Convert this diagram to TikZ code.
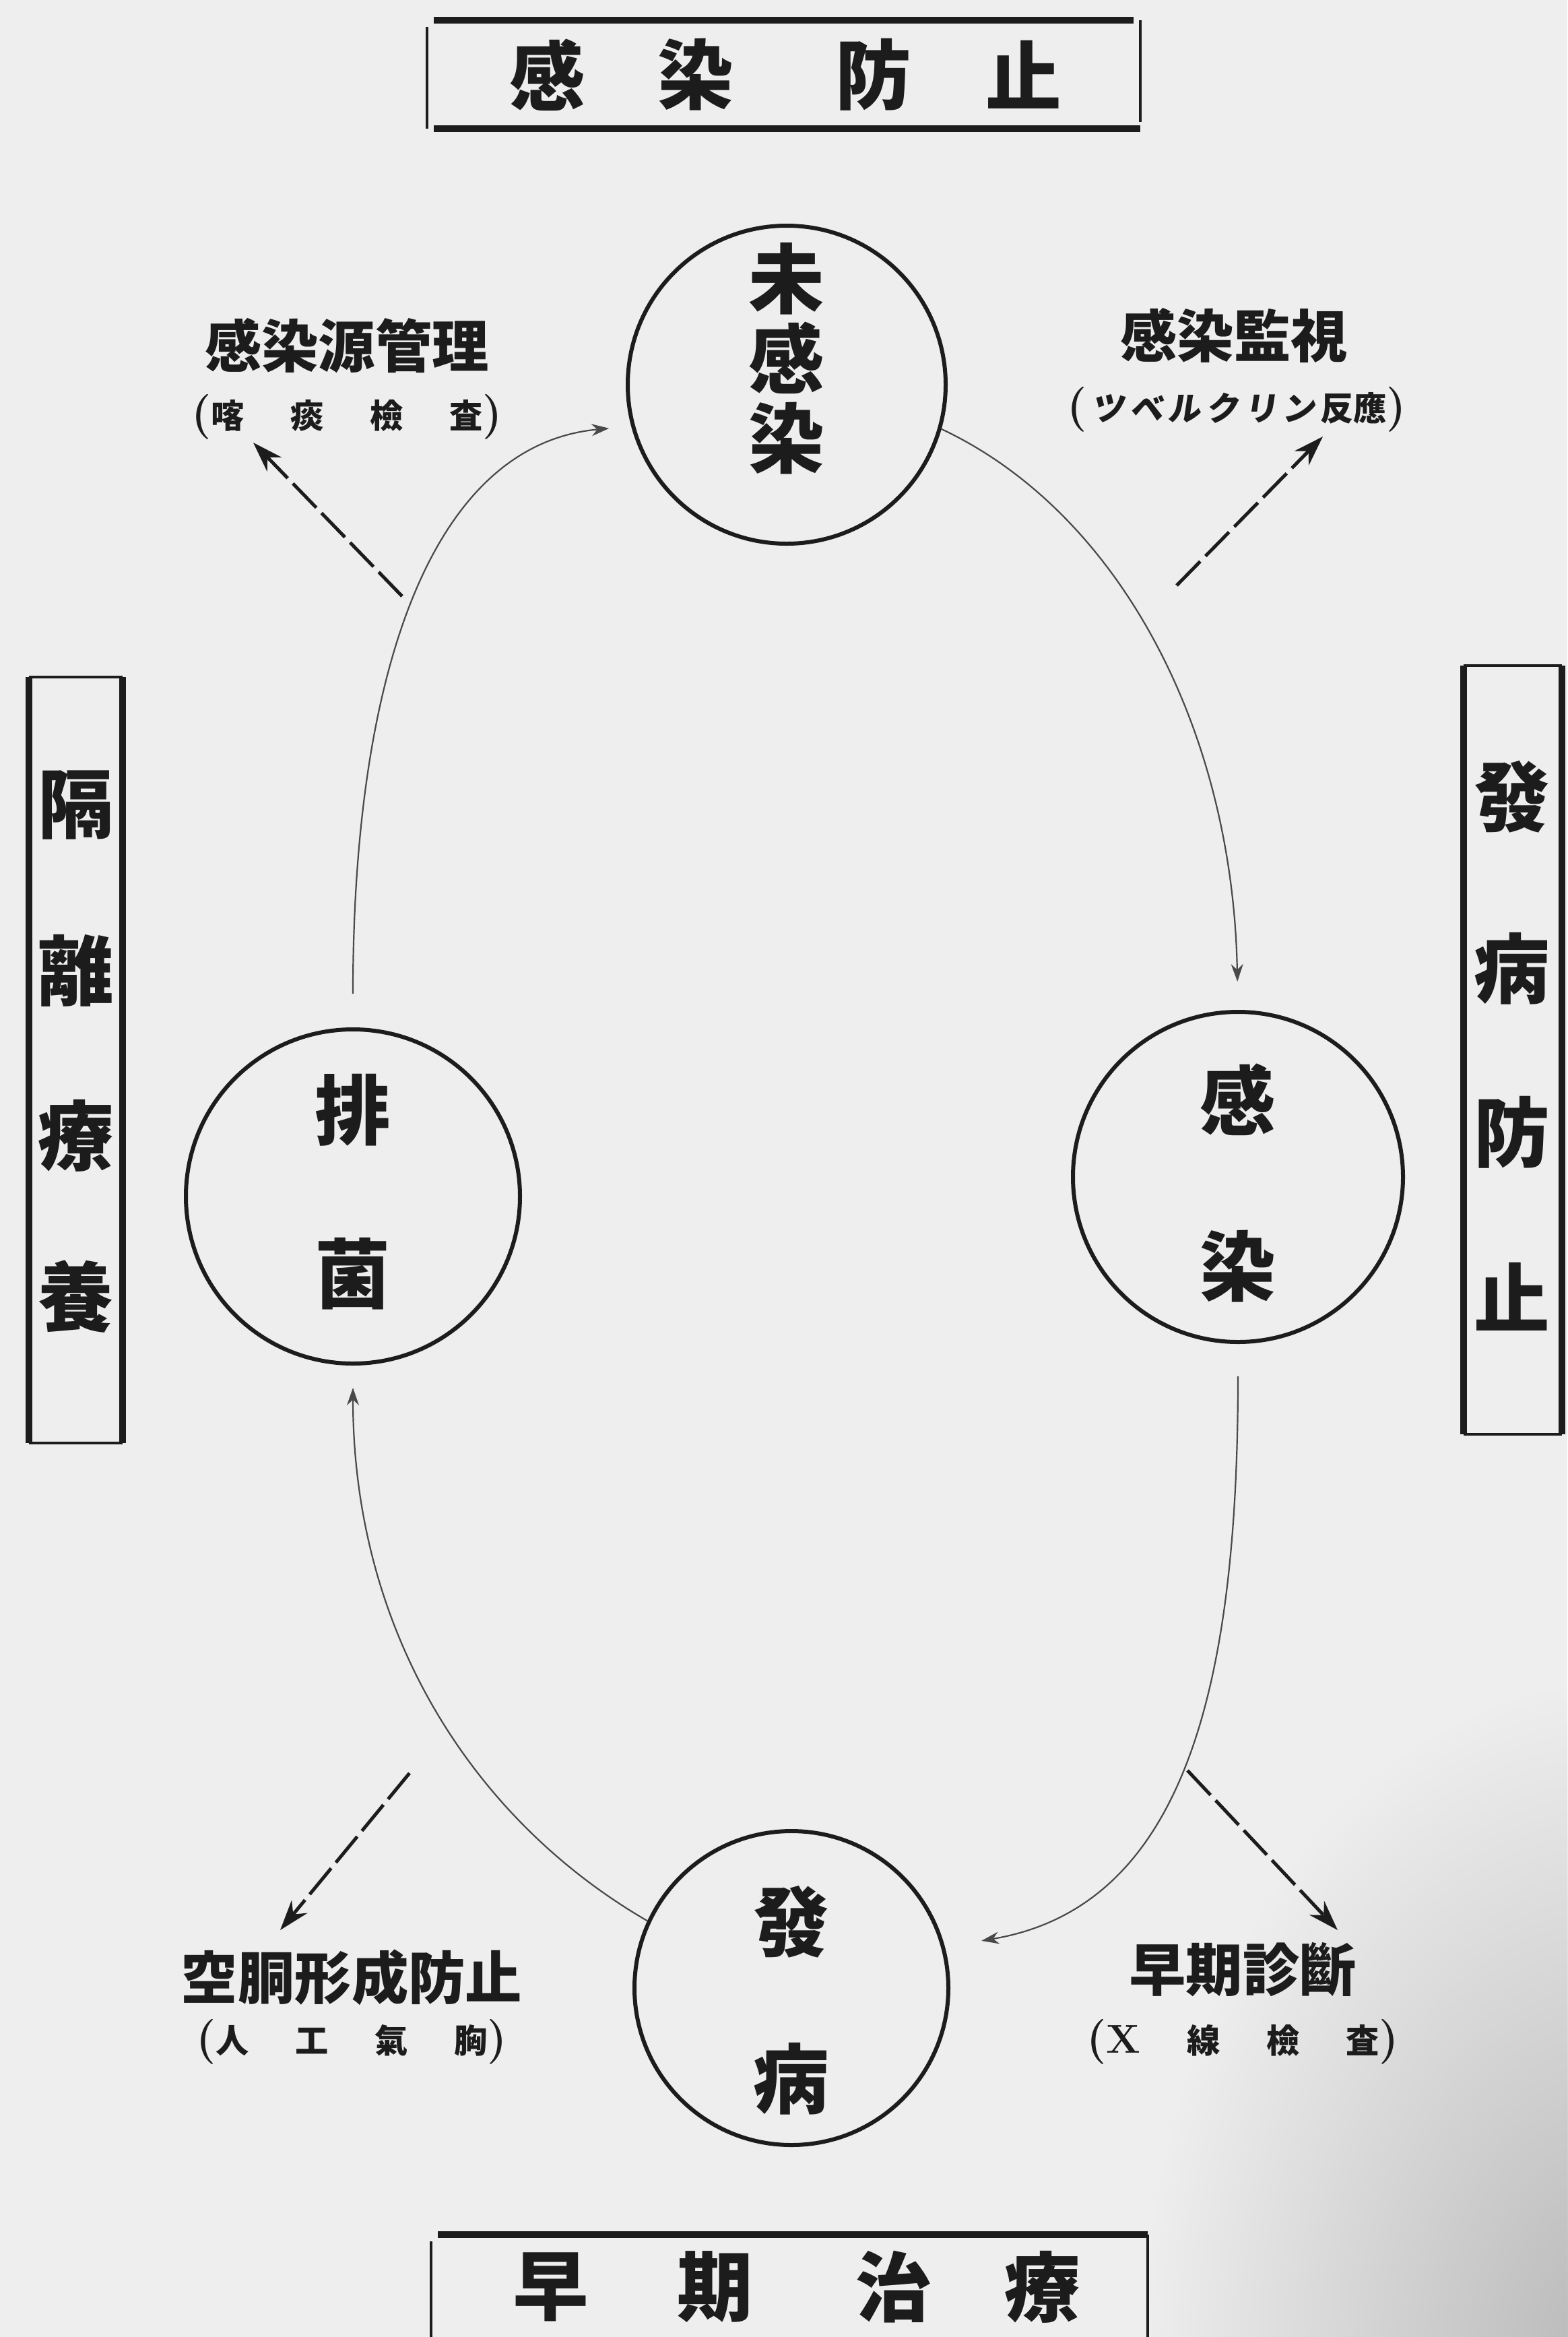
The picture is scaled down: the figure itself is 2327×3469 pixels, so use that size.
\documentclass[tikz,border=0pt]{standalone}
\usepackage{fontspec}
\newfontfamily\cjk{Noto Sans CJK JP}
\newfontfamily\cjkslant{Noto Sans CJK JP}[FakeSlant=0.15]
\usetikzlibrary{arrows.meta,fadings}
\tikzfading[name=softfade, inner color=transparent!0, outer color=transparent!100]
\definecolor{paper}{RGB}{238,238,238}
\definecolor{ink}{RGB}{28,28,28}
\begin{document}
\begin{tikzpicture}[x=0.1mm,y=-0.1mm,
  circ/.style={circle, draw=ink, line width=0.6mm, inner sep=0pt},
  big/.style={font=\cjk\bfseries\fontsize{32}{36}\selectfont, text=ink, inner sep=0pt},
  lbl/.style={font=\cjk\bfseries\fontsize{24}{28}\selectfont, text=ink, inner sep=0pt},
  sublbl/.style={font=\cjk\bfseries\fontsize{14}{16}\selectfont, text=ink, inner sep=0pt},
  flow/.style={draw=ink!80, line width=0.22mm, -{Stealth[length=2.6mm,width=1.8mm]}},
  dasharrow/.style={draw=ink, line width=0.5mm, dash pattern=on 5mm off 1.1mm, -{Stealth[length=4.5mm,width=3mm]}},
  hthick/.style={draw=ink, line width=1mm},
  hthin/.style={draw=ink, line width=0.4mm},
  boxframe/.style={inner sep=0pt, draw=none}
]
\newcommand\lpar{{\rmfamily\bfseries\fontsize{19}{19}\selectfont (}}
\newcommand\rpar{{\rmfamily\bfseries\fontsize{19}{19}\selectfont )}}
\newcommand\kg{\hspace{0.15em}}
\useasboundingbox (0,0) rectangle (2327,3469);
\fill[paper] (0,0) rectangle (2327,3469);
% paper shadow, bottom right
\fill[black!28, path fading=softfade] (2400,3500) ellipse [x radius=700, y radius=1000];

% ---------- top box ----------
\node[boxframe, minimum width=105.7mm, minimum height=15.9mm] (T) at (1163.5,110.5) {};
\draw[hthick] ([xshift=1mm]T.north west) -- ([xshift=-1mm]T.north east);
\draw[hthick] ([xshift=1mm]T.south west) -- (T.south east);
\draw[hthin] ([yshift=-1mm]T.north west) -- (T.south west);
\draw[hthin] (T.north east) -- ([yshift=1mm]T.south east);
\node[big] (T1) at (813,111) {感};
\node[big] (T2) at (1033,111) {染};
\node[big] (T3) at (1297,111) {防};
\node[big] (T4) at (1520,111) {止};

% ---------- bottom box ----------
\node[boxframe, minimum width=106.2mm, minimum height=20mm] (Bx) at (1172,3418) {};
\draw[hthick] ([xshift=1mm]Bx.north west) -- (Bx.north east);
\draw[hthin] ([yshift=-1mm]Bx.north west) -- (Bx.south west);
\draw[hthin] (Bx.north east) -- (Bx.south east);
\node[big] (B1) at (818,3395) {早};
\node[big] (B2) at (1062,3395) {期};
\node[big] (B3) at (1327,3395) {治};
\node[big] (B4) at (1548,3395) {療};

% ---------- left box ----------
\node[boxframe, minimum width=13.7mm, minimum height=113.5mm] (L) at (112.5,1573.5) {};
\draw[hthick] (L.north west) -- (L.south west);
\draw[hthick] (L.north east) -- (L.south east);
\draw[hthin] (L.north west) -- (L.north east);
\draw[hthin] (L.south west) -- (L.south east);
\node[big] (L1) at (113,1195) {隔};
\node[big] (L2) at (113,1441) {離};
\node[big] (L3) at (113,1686) {療};
\node[big] (L4) at (113,1925) {養};

% ---------- right box ----------
\node[boxframe, minimum width=14.4mm, minimum height=113.9mm] (R) at (2246,1558.5) {};
\draw[hthick] (R.north west) -- (R.south west);
\draw[hthick] (R.north east) -- (R.south east);
\draw[hthin] (R.north west) -- (R.north east);
\draw[hthin] (R.south west) -- (R.south east);
\node[big] (R1) at (2245,1183) {發};
\node[big] (R2) at (2245,1438) {病};
\node[big] (R3) at (2245,1681) {防};
\node[big] (R4) at (2245,1925) {止};

% ---------- circles ----------
\node[circ, minimum size=47.2mm] (A) at (1168,571) {};
\node[big] (A1) at (1168,414) {未};
\node[big] (A2) at (1168,531) {感};
\node[big] (A3) at (1168,651) {染};

\node[circ, minimum size=49mm] (B) at (1838,1747) {};
\node[big] (Bt1) at (1838,1632) {感};
\node[big] (Bt2) at (1838,1880) {染};

\node[circ, minimum size=46.6mm] (C) at (1175,2951) {};
\node[big] (Ct1) at (1175,2853) {發};
\node[big] (Ct2) at (1175,3086) {病};

\node[circ, minimum size=49.6mm] (D) at (524,1776) {};
\node[big] (Dt1) at (524,1648) {排};
\node[big] (Dt2) at (524,1891) {菌};

% ---------- labels ----------
\node[lbl] (La) at (515,513) {感染源管理};
\node[sublbl] (Las) at (515,619) {\lpar 喀\hspace{1.4em}痰\hspace{1.4em}檢\hspace{1.4em}査\rpar};
\node[lbl] (Lb) at (1832,498) {感染監視};
\node[sublbl] (Lbs) at (1836,608) {\lpar\kg{\cjkslant\bfseries ツ\kg ベ\kg ル\kg ク\kg リ\kg ン}\kg 反應\rpar};
\node[lbl] (Lc) at (522,2935) {空胴形成防止};
\node[sublbl] (Lcs) at (522,3031) {\lpar 人\hspace{1.4em}工\hspace{1.4em}氣\hspace{1.4em}胸\rpar};
\node[lbl] (Ld) at (1845,2924) {早期診斷};
\node[sublbl] (Lds) at (1845,3031) {\lpar{\rmfamily\bfseries\fontsize{17}{17}\selectfont X}\hspace{1.4em}線\hspace{1.4em}檢\hspace{1.4em}査\rpar};

% ---------- cycle connectors ----------
\draw[flow, shorten >=4.2mm] (A.-16) .. controls (1660,760) and (1830,1080) .. (B.north);
\draw[flow, shorten <=4.8mm, shorten >=5.5mm] (B.south) .. controls (1838,2500) and (1760,2830) .. (C.15);
\draw[flow, shorten >=3.3mm] (C.155) .. controls (700,2700) and (524,2420) .. (D.south);
\draw[flow, shorten <=5mm, shorten >=3.3mm] (D.north) .. controls (524,1000) and (640,660) .. (A.195);

% ---------- dashed arrows ----------
\coordinate (d1s) at (597,885);  \coordinate (d1e) at (376,657);
\coordinate (d2s) at (1747,869); \coordinate (d2e) at (1964,648);
\coordinate (d3s) at (608,2632); \coordinate (d3e) at (416,2865);
\coordinate (d4s) at (1763,2628);\coordinate (d4e) at (1986,2865);
\draw[dasharrow] (d1s) -- (d1e);
\draw[dasharrow] (d2s) -- (d2e);
\draw[dasharrow] (d3s) -- (d3e);
\draw[dasharrow] (d4s) -- (d4e);
\end{tikzpicture}
\end{document}
